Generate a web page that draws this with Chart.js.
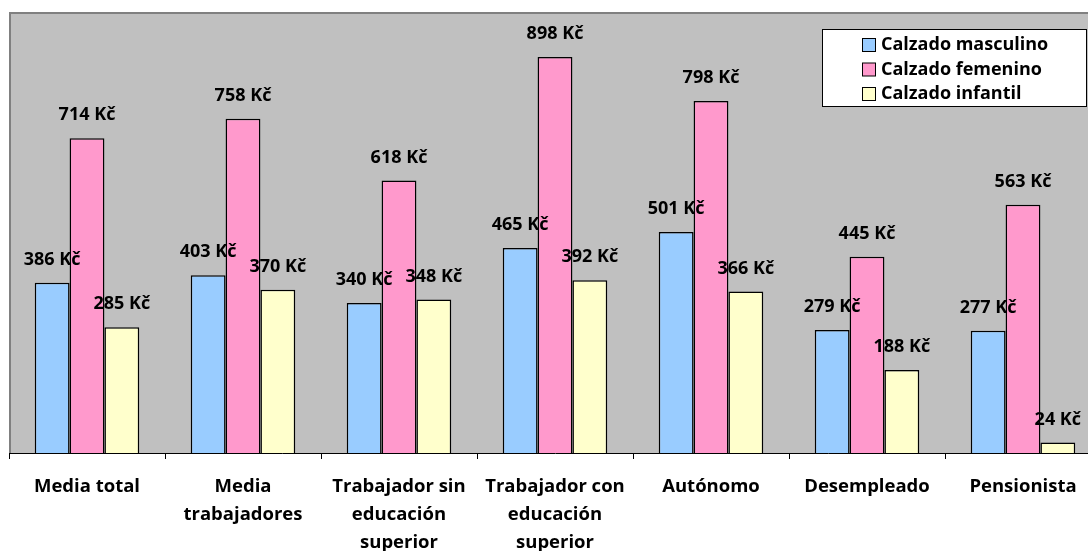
<!DOCTYPE html>
<html>
<head>
<meta charset="utf-8">
<script src="https://cdn.jsdelivr.net/npm/chart.js@4/dist/chart.umd.min.js"></script>
<style>
  html, body { margin: 0; padding: 0; background: #fff; overflow: hidden; }
  #wrap { width: 1102px; height: 551px; }
</style>
</head>
<body>
<div id="wrap"><canvas id="c" width="1102" height="551"></canvas></div>
<script>
  // categories (multi-line labels as in the original)
  const CATEGORIES = [
    ['Media total'],
    ['Media', 'trabajadores'],
    ['Trabajador sin', 'educación', 'superior'],
    ['Trabajador con', 'educación', 'superior'],
    ['Autónomo'],
    ['Desempleado'],
    ['Pensionista'],
  ];
  const SERIES_NAMES = ['Calzado masculino', 'Calzado femenino', 'Calzado infantil'];
  const MASCULINO = [386, 403, 340, 465, 501, 279, 277];
  const FEMENINO = [714, 758, 618, 898, 798, 445, 563];
  const INFANTIL = [285, 370, 348, 392, 366, 188, 24];
  const COLORS = ['#99ccff', '#ff99cc', '#ffffcc'];

  const FONT = '"Open Sans", Lato, sans-serif';

  // gray plot area with darker top/left edge
  const plotBackground = {
    id: 'plotBackground',
    beforeDraw(chart) {
      const { ctx, chartArea: a } = chart;
      ctx.save();
      ctx.fillStyle = '#c0c0c0';
      ctx.fillRect(a.left, a.top, a.right - a.left, a.bottom - a.top);
      ctx.strokeStyle = '#808080';
      ctx.lineWidth = 2;
      ctx.beginPath();
      ctx.moveTo(a.left + 1, a.bottom);
      ctx.lineTo(a.left + 1, a.top + 1);
      ctx.lineTo(a.right, a.top + 1);
      ctx.stroke();
      ctx.restore();
    },
  };

  // "NNN Kč" above every bar
  const valueLabels = {
    id: 'valueLabels',
    afterDatasetsDraw(chart) {
      const { ctx } = chart;
      ctx.save();
      ctx.font = 'bold 18px ' + FONT;
      ctx.fillStyle = '#000';
      ctx.textAlign = 'center';
      ctx.textBaseline = 'middle';
      chart.data.datasets.forEach((ds, i) => {
        chart.getDatasetMeta(i).data.forEach((bar, j) => {
          ctx.fillText(ds.data[j] + ' Kč', bar.x, bar.y - 23);
        });
      });
      ctx.restore();
    },
  };

  // boxed legend in the upper right, Excel style
  const boxLegend = {
    id: 'boxLegend',
    afterDraw(chart) {
      const { ctx } = chart;
      const x = 822.5, y = 29.5, w = 264, h = 77;
      ctx.save();
      ctx.fillStyle = '#fff';
      ctx.fillRect(x, y, w, h);
      ctx.strokeStyle = '#000';
      ctx.lineWidth = 1;
      ctx.strokeRect(x, y, w, h);
      ctx.font = 'bold 18px ' + FONT;
      ctx.textAlign = 'left';
      ctx.textBaseline = 'middle';
      chart.data.datasets.forEach((ds, i) => {
        const cy = 45 + i * 24.5;
        ctx.fillStyle = ds.backgroundColor;
        ctx.fillRect(862.5, cy - 6.5, 13, 13);
        ctx.strokeRect(862.5, cy - 6.5, 13, 13);
        ctx.fillStyle = '#000';
        ctx.fillText(ds.label, 881, cy);
      });
      ctx.restore();
    },
  };

  const seriesData = [MASCULINO, FEMENINO, INFANTIL];

  new Chart(document.getElementById('c'), {
    type: 'bar',
    data: {
      labels: CATEGORIES,
      datasets: SERIES_NAMES.map((name, i) => ({
        label: name,
        data: seriesData[i],
        backgroundColor: COLORS[i],
        borderColor: '#000',
        borderWidth: 1.5,
        borderSkipped: 'bottom',
        barPercentage: 1,
        categoryPercentage: 0.67,
      })),
    },
    options: {
      responsive: false,
      animation: false,
      devicePixelRatio: 1,
      layout: { padding: { left: 9, top: 12, right: 1, bottom: 0 } },
      plugins: {
        legend: { display: false },
        tooltip: { enabled: false },
      },
      scales: {
        y: {
          display: false,
          min: 0,
          max: 1000,
        },
        x: {
          offset: true,
          grid: {
            display: true,
            offset: true,
            drawOnChartArea: false,
            drawTicks: true,
            tickLength: 6,
            color: '#000',
          },
          border: { display: true, color: '#000', width: 1 },
          ticks: {
            color: '#000',
            font: { family: FONT, size: 18.5, weight: 'bold', lineHeight: 1.5 },
            padding: 14,
            maxRotation: 0,
            autoSkip: false,
          },
          afterFit(scale) {
            scale.height = 98;
          },
        },
      },
    },
    plugins: [plotBackground, valueLabels, boxLegend],
  });
</script>
</body>
</html>
